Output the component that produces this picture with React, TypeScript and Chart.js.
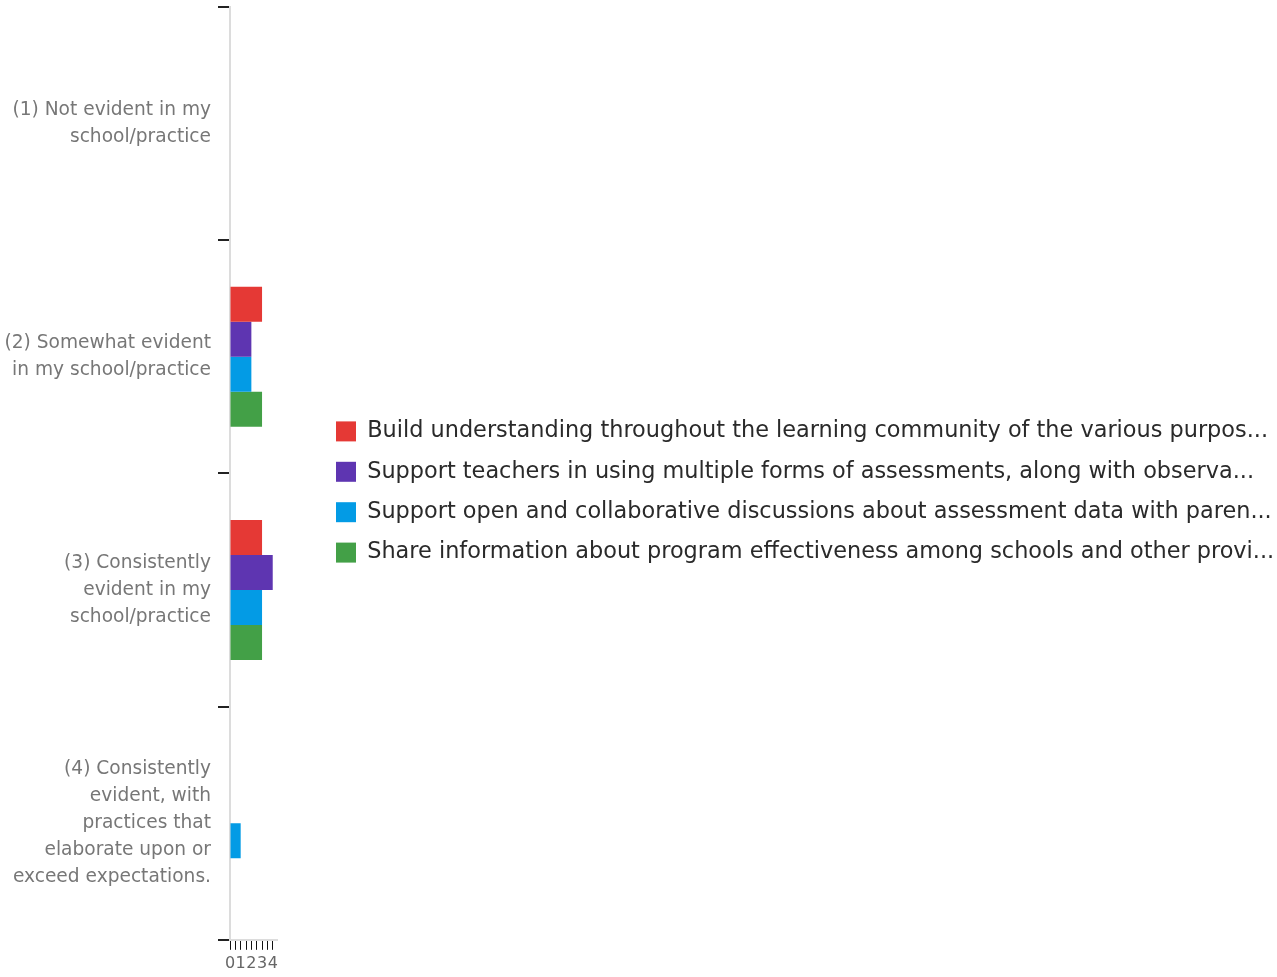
import React, { useEffect, useRef } from 'react';
import { Chart, registerables } from 'chart.js';

Chart.register(...registerables);

const categories: string[][] = [
  ['(1) Not evident in my', 'school/practice'],
  ['(2) Somewhat evident', 'in my school/practice'],
  ['(3) Consistently', 'evident in my', 'school/practice'],
  ['(4) Consistently', 'evident, with', 'practices that', 'elaborate upon or', 'exceed expectations.'],
];

const seriesLabels = [
  'Build understanding throughout the learning community of the various purpos...',
  'Support teachers in using multiple forms of assessments, along with observa...',
  'Support open and collaborative discussions about assessment data with paren...',
  'Share information about program effectiveness among schools and other provi...',
];

const buildUnderstanding = [0, 3, 3, 0];
const supportTeachers = [0, 2, 4, 0];
const supportOpenDiscussions = [0, 2, 3, 1];
const shareInformation = [0, 3, 3, 0];

const seriesColors = ['#E53935', '#5E35B1', '#039BE5', '#43A047'];

const xMin = 0;
const xMax = 4.4;
const xStep = 0.5;

const FONT = '"DejaVu Sans", sans-serif';

export default function App() {
  const canvasRef = useRef<HTMLCanvasElement | null>(null);

  useEffect(() => {
    if (!canvasRef.current) return;
    const values = [buildUnderstanding, supportTeachers, supportOpenDiscussions, shareInformation];
    const chart = new Chart(canvasRef.current, {
      type: 'bar',
      data: {
        labels: categories,
        datasets: values.map((v, i) => ({
          label: seriesLabels[i],
          data: v,
          backgroundColor: seriesColors[i],
          borderWidth: 0,
          barPercentage: 1,
          categoryPercentage: 0.6,
        })),
      },
      options: {
        indexAxis: 'y',
        animation: false,
        responsive: true,
        maintainAspectRatio: false,
        layout: { padding: { top: 7, left: 0, right: 0, bottom: 0 } },
        plugins: {
          tooltip: { enabled: false },
          legend: {
            position: 'right',
            maxWidth: 959,
            labels: {
              boxWidth: 20,
              boxHeight: 20,
              padding: 18,
              color: '#2a2a2a',
              font: { family: FONT, size: 22.4 },
            },
          },
        },
        scales: {
          y: {
            type: 'category',
            position: 'left',
            afterFit: (s: any) => {
              s.width = 230;
              s.paddingTop = 0;
              s.paddingBottom = 0;
            },
            grid: {
              offset: true,
              drawOnChartArea: false,
              drawTicks: true,
              tickLength: 12,
              color: '#222',
              lineWidth: 2,
            },
            border: { color: '#dcdcdc', width: 2 },
            ticks: {
              padding: 7,
              color: '#777',
              font: { family: FONT, size: 18.6, lineHeight: '27px' },
            },
          },
          y2: {
            type: 'linear',
            position: 'right',
            display: true,
            afterFit: (s: any) => {
              const lw = s.chart.legend ? s.chart.legend.width : 959;
              s.width = Math.max(0, 1000 - (lw || 959));
              s.paddingTop = 0;
              s.paddingBottom = 0;
            },
            grid: { display: false, drawTicks: false },
            border: { display: false },
            ticks: { display: false },
          },
          x: {
            type: 'linear',
            min: xMin,
            max: xMax,
            grid: {
              drawOnChartArea: false,
              drawTicks: true,
              tickLength: 10,
              color: '#111',
              lineWidth: 1,
            },
            border: { color: '#dcdcdc', width: 2 },
            ticks: {
              stepSize: xStep,
              includeBounds: false,
              autoSkip: false,
              maxRotation: 0,
              padding: 4,
              color: '#666',
              font: { family: FONT, size: 16 },
              callback: (v: any) => (Number.isInteger(Number(v)) ? String(v) : ''),
            },
          },
        },
      },
    });
    return () => chart.destroy();
  }, []);

  return (
    <div style={{ position: 'fixed', left: 0, top: 0, width: 1277, height: 977, background: '#fff' }}>
      <canvas ref={canvasRef} />
    </div>
  );
}
